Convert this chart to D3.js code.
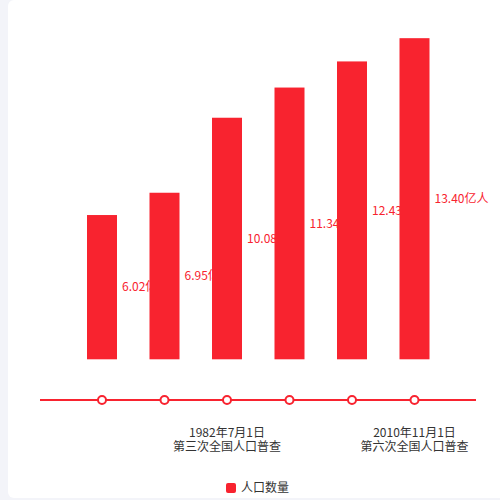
<!DOCTYPE html>
<html>
<head>
<meta charset="utf-8">
<script src="https://cdn.jsdelivr.net/npm/d3@7"></script>
<style>
  body { margin: 0; background: #f3f4f9; }
  svg { display: block; font-family: "Noto Sans CJK SC", "Noto Sans", sans-serif; }
</style>
</head>
<body>
<script>
// data
const years = ["1953", "1964", "1982", "1990", "2000", "2010"];
const population = [6.02, 6.95, 10.08, 11.34, 12.43, 13.40];
const censusDates = ["1953年6月30日", "1964年6月30日", "1982年7月1日", "1990年7月1日", "2000年11月1日", "2010年11月1日"];
const censusNames = ["第一次全国人口普查", "第二次全国人口普查", "第三次全国人口普查", "第四次全国人口普查", "第五次全国人口普查", "第六次全国人口普查"];
const seriesName = "人口数量";

const red = "#f8232f";
const width = 500, height = 500;

const svg = d3.select("body").append("svg")
  .attr("width", width)
  .attr("height", height);

// white card
svg.append("rect")
  .attr("x", 8).attr("y", 0)
  .attr("width", 520).attr("height", 498)
  .attr("rx", 6)
  .attr("fill", "#fff");

// scales
const x = d3.scaleBand()
  .domain(years)
  .range([70.75, 445.75])
  .paddingInner(0.52)
  .paddingOuter(0.26);

const y = d3.scaleLinear()
  .domain([0, 14])
  .range([359.3, 23.8]);

const bars = years.map((d, i) => ({ year: d, value: population[i] }));

// labels first so the next bar covers them
svg.append("g").selectAll("text")
  .data(bars)
  .enter().append("text")
  .attr("x", d => x(d.year) + x.bandwidth() + 5)
  .attr("y", d => (y(d.value) + y(0)) / 2)
  .attr("dy", ".35em")
  .attr("fill", red)
  .style("font-size", "12px")
  .text(d => d3.format(".2f")(d.value) + "亿人");

svg.append("g").selectAll("rect")
  .data(bars)
  .enter().append("rect")
  .attr("x", d => x(d.year))
  .attr("y", d => y(d.value))
  .attr("width", x.bandwidth())
  .attr("height", d => y(0) - y(d.value))
  .attr("fill", red);

// timeline
const lineY = 400;
svg.append("line")
  .attr("x1", 40).attr("x2", 476)
  .attr("y1", lineY).attr("y2", lineY)
  .attr("stroke", red)
  .attr("stroke-width", 2);

svg.append("g").selectAll("circle")
  .data(years)
  .enter().append("circle")
  .attr("cx", d => x(d) + x.bandwidth() / 2)
  .attr("cy", lineY)
  .attr("r", 4)
  .attr("fill", "#fff")
  .attr("stroke", red)
  .attr("stroke-width", 2);

// timeline labels (only every third one fits)
const shown = years.filter((d, i) => i % 3 === 2);
const tl = svg.append("g")
  .attr("fill", "#333")
  .style("font-size", "12px")
  .attr("text-anchor", "middle");

tl.selectAll(".date")
  .data(shown)
  .enter().append("text")
  .attr("class", "date")
  .attr("x", d => x(d) + x.bandwidth() / 2)
  .attr("y", 437)
  .text(d => censusDates[years.indexOf(d)]);

tl.selectAll(".name")
  .data(shown)
  .enter().append("text")
  .attr("class", "name")
  .attr("x", d => x(d) + x.bandwidth() / 2)
  .attr("y", 451)
  .text(d => censusNames[years.indexOf(d)]);

// legend
const legend = svg.append("g").attr("transform", "translate(226,488)");
legend.append("rect")
  .attr("x", 0).attr("y", -5)
  .attr("width", 10).attr("height", 10)
  .attr("rx", 2)
  .attr("fill", red);
legend.append("text")
  .attr("x", 15)
  .attr("dy", ".35em")
  .attr("fill", "#333")
  .style("font-size", "12px")
  .text(seriesName);
</script>
</body>
</html>
